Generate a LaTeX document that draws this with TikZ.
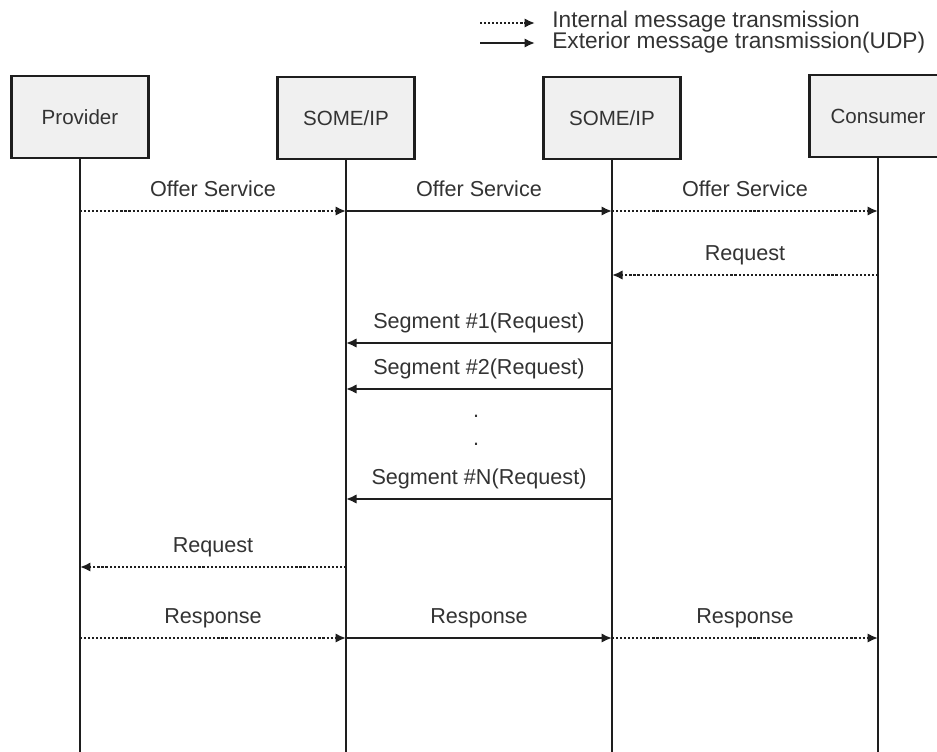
\documentclass[tikz,border=0pt]{standalone}
\usepackage{fontspec}
\setmainfont{Liberation Sans}
\usetikzlibrary{arrows.meta}
\usetikzlibrary{positioning}
\definecolor{boxfill}{HTML}{F0F0F0}
\definecolor{ink}{HTML}{1E1E1E}
\definecolor{txt}{HTML}{333333}
\tikzset{actor/.style = {draw = ink, line width = 1.6pt, fill = boxfill,
                         minimum width = 2.74cm, minimum height = 1.64cm,
                         inner sep = 0, text = txt,
                         font = \fontsize{11.7}{14}\selectfont}}
\tikzset{life/.style = {draw = ink, line width = 1.3pt}}
\tikzset{ext/.style = {draw = ink, line width = 1.3pt,
                       -{Latex[length = 0.21cm, width = 0.19cm]}}}
\tikzset{int/.style = {ext, dash pattern = on 1.2pt off 1.1pt}}
\tikzset{lbl/.style = {midway, anchor = base, yshift = 0.29cm, inner sep = 0,
                       text = txt, font = \fontsize{12.3}{14}\selectfont}}
\tikzset{gap/.style = {anchor = base, inner sep = 0, text = txt,
                       font = \fontsize{12.3}{14}\selectfont}}
\tikzset{legend/.style = {anchor = base west, inner sep = 0, text = txt,
                          font = \fontsize{12.9}{14}\selectfont}}

\begin{document}
\begin{tikzpicture}[x = 0.02cm, y = -0.02cm]
    \fill [white] (0, 0) rectangle (937, 751);
    \path [use as bounding box, clip] (0, 0) rectangle (937, 751);

    % legend
    \coordinate (int-a) at (480, 23);
    \coordinate (int-b) at (535, 23);
    \coordinate (ext-a) at (480, 43);
    \coordinate (ext-b) at (535, 43);
    \draw [int] (int-a) -- (int-b);
    \draw [ext] (ext-a) -- (ext-b);
    \node [legend] (leg-int) at (552, 27) {Internal message transmission};
    \node [legend] (leg-ext) at (552, 48) {Exterior message transmission(UDP)};

    % actors and lifelines
    \node [actor] (prov) at (80, 117) {Provider};
    \node [actor] (some1) at (346, 118) {SOME/IP};
    \node [actor] (some2) at (612, 118) {SOME/IP};
    \node [actor] (cons) at (878, 116) {Consumer};

    \foreach \n/\x in {prov/80, some1/346, some2/612, cons/878} {
      \coordinate (\n-end) at (\x, 755);
      \draw [life] (\n.south) -- (\n-end);
      \foreach \r/\y in {offer/211, creq/275, seg1/343, seg2/389,
                         segn/499, preq/567, resp/638} {
        \coordinate (\n-\r) at (\x, \y);
      }
    }

    % messages
    \draw [int] (prov-offer) -- node [lbl] {Offer Service} (some1-offer);
    \draw [ext] (some1-offer) -- node [lbl] {Offer Service} (some2-offer);
    \draw [int] (some2-offer) -- node [lbl] {Offer Service} (cons-offer);

    \draw [int] (cons-creq) -- node [lbl] {Request} (some2-creq);

    \draw [ext] (some2-seg1) -- node [lbl] {Segment \#1(Request)} (some1-seg1);
    \draw [ext] (some2-seg2) -- node [lbl] {Segment \#2(Request)} (some1-seg2);
    \node [gap] (dot1) at (476, 417) {.};
    \node [gap] (dot2) at (476, 445) {.};
    \draw [ext] (some2-segn) -- node [lbl] {Segment \#N(Request)} (some1-segn);

    \draw [int] (some1-preq) -- node [lbl] {Request} (prov-preq);

    \draw [int] (prov-resp) -- node [lbl] {Response} (some1-resp);
    \draw [ext] (some1-resp) -- node [lbl] {Response} (some2-resp);
    \draw [int] (some2-resp) -- node [lbl] {Response} (cons-resp);
\end{tikzpicture}
\end{document}
